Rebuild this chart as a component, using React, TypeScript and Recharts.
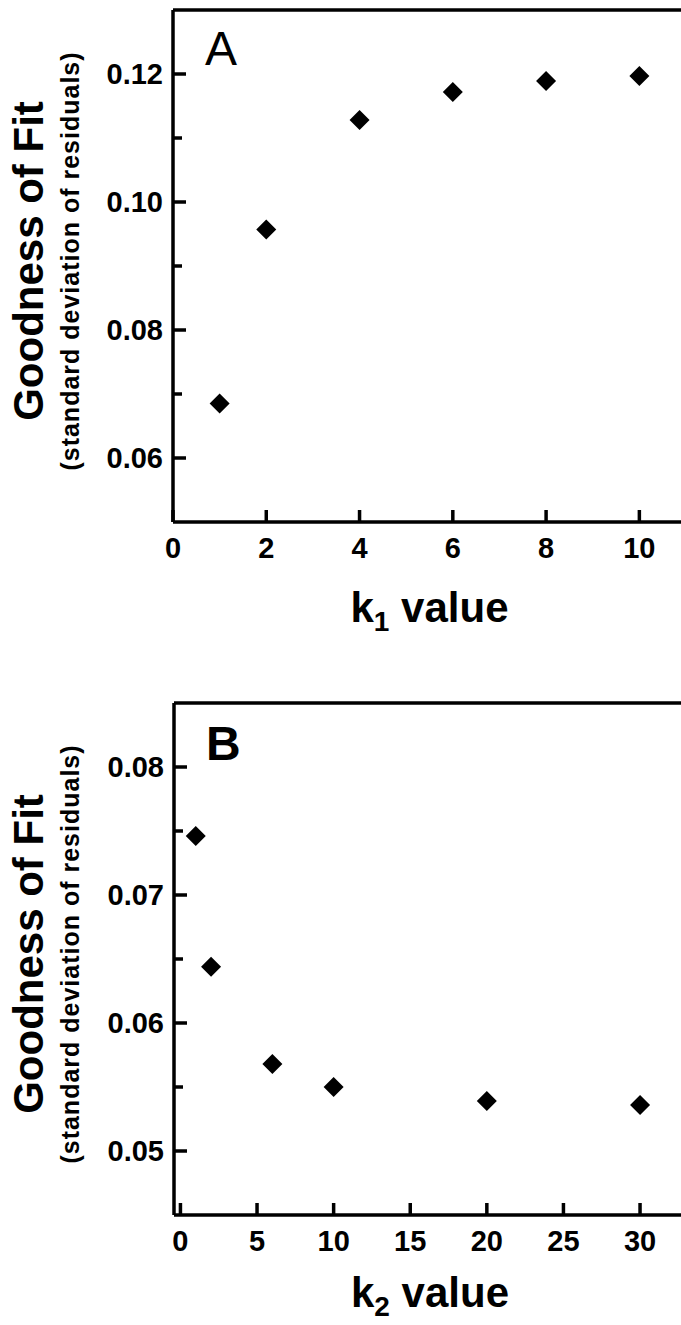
import { Label, ReferenceLine, Scatter, ScatterChart, XAxis, YAxis } from "recharts";

// panel A: k1 sweep
const k1Values = [1, 2, 4, 6, 8, 10];
const fitA = [0.0685, 0.0957, 0.1128, 0.1172, 0.1189, 0.1197];
const xTicksA = [0, 2, 4, 6, 8, 10];
const yTicksA = [0.06, 0.07, 0.08, 0.09, 0.1, 0.11, 0.12];

// panel B: k2 sweep
const k2Values = [1, 2, 6, 10, 20, 30];
const fitB = [0.0746, 0.0644, 0.0568, 0.055, 0.0539, 0.0536];
const xTicksB = [0, 5, 10, 15, 20, 25, 30];
const yTicksB = [0.05, 0.055, 0.06, 0.065, 0.07, 0.075, 0.08];

const dataA = k1Values.map((k, i) => ({ k, fit: fitA[i] }));
const dataB = k2Values.map((k, i) => ({ k, fit: fitB[i] }));

const FONT = '"Liberation Sans", Arial, Helvetica, sans-serif';
const LW = 3.5;
const AXIS = { stroke: "#000", strokeWidth: LW };

const Diamond = (props: any) => {
  const { cx, cy } = props;
  const r = 10;
  return (
    <polygon
      points={`${cx},${cy - r} ${cx + r},${cy} ${cx},${cy + r} ${cx - r},${cy}`}
      fill="#000"
    />
  );
};

const makeYTick = (isMajor: (v: number) => boolean) => (props: any) => {
  const { x, y, payload } = props;
  const axisX = x + 8;
  const major = isMajor(payload.value);
  return (
    <g>
      <line
        x1={axisX}
        x2={axisX + (major ? 13 : 9)}
        y1={y}
        y2={y}
        stroke="#000"
        strokeWidth={LW}
      />
      {major && (
        <text
          x={axisX - 10}
          y={y + 10}
          textAnchor="end"
          fontFamily={FONT}
          fontWeight="bold"
          fontSize={29}
          fill="#000"
        >
          {payload.value.toFixed(2)}
        </text>
      )}
    </g>
  );
};

const XTick = (props: any) => {
  const { x, y, payload } = props;
  return (
    <g>
      <line x1={x} x2={x} y1={y} y2={y - 12} stroke="#000" strokeWidth={LW} />
      <text
        x={x}
        y={y + 36}
        textAnchor="middle"
        fontFamily={FONT}
        fontWeight="bold"
        fontSize={29}
        fill="#000"
      >
        {payload.value}
      </text>
    </g>
  );
};

const YTitle = ({ viewBox }: any) => {
  const cy = viewBox.y + viewBox.height / 2 - 5;
  return (
    <g fontFamily={FONT} fontWeight="bold" fill="#000">
      <text
        x={43}
        y={cy}
        transform={`rotate(-90, 43, ${cy})`}
        textAnchor="middle"
        fontSize={42}
      >
        Goodness of Fit
      </text>
      <text
        x={79}
        y={cy}
        transform={`rotate(-90, 79, ${cy})`}
        textAnchor="middle"
        fontSize={25}
        letterSpacing={1}
      >
        (standard deviation of residuals)
      </text>
    </g>
  );
};

const makeXTitle = (sub: string, dy: number) => ({ viewBox }: any) => (
  <text
    x={viewBox.x + viewBox.width / 2}
    y={viewBox.y + dy}
    textAnchor="middle"
    fontFamily={FONT}
    fontWeight="bold"
    fontSize={42}
    fill="#000"
  >
    <tspan>k</tspan>
    <tspan dy={9} fontSize={28}>
      {sub}
    </tspan>
    <tspan dy={-9}> value</tspan>
  </text>
);

const makeLetter = (letter: string, dy: number, weight: string) =>
  ({ viewBox }: any) => (
    <text
      x={viewBox.x + 32}
      y={viewBox.y + dy}
      fontFamily={FONT}
      fontWeight={weight}
      fontSize={48}
      fill="#000"
    >
      {letter}
    </text>
  );

interface PanelProps {
  data: { k: number; fit: number }[];
  top: number;
  height: number;
  margin: { top: number; right: number; left: number; bottom: number };
  yAxisWidth: number;
  xDomain: [number, number];
  yDomain: [number, number];
  xTicks: number[];
  yTicks: number[];
  isMajor: (v: number) => boolean;
  letter: string;
  letterWeight: string;
  letterDy: number;
  sub: string;
  titleDy: number;
}

function Panel(p: PanelProps) {
  return (
    <div style={{ position: "absolute", left: 0, top: p.top }}>
      <ScatterChart width={700} height={p.height} margin={p.margin}>
        <XAxis
          dataKey="k"
          type="number"
          domain={p.xDomain}
          ticks={p.xTicks}
          interval={0}
          axisLine={AXIS}
          tickLine={false}
          tickSize={0}
          tickMargin={0}
          tick={XTick}
          height={110}
        >
          <Label content={makeXTitle(p.sub, p.titleDy)} />
        </XAxis>
        <YAxis
          dataKey="fit"
          type="number"
          domain={p.yDomain}
          ticks={p.yTicks}
          interval={0}
          axisLine={AXIS}
          tickLine={false}
          tickSize={0}
          tickMargin={8}
          tick={makeYTick(p.isMajor)}
          width={p.yAxisWidth}
        >
          <Label content={YTitle} />
        </YAxis>
        {/* top frame line, carries the panel letter */}
        <ReferenceLine y={p.yDomain[1]} stroke="#000" strokeWidth={LW}>
          <Label content={makeLetter(p.letter, p.letterDy, p.letterWeight)} />
        </ReferenceLine>
        <Scatter
          data={p.data}
          dataKey="fit"
          shape={Diamond}
          fill="#000"
          isAnimationActive={false}
        />
      </ScatterChart>
    </div>
  );
}

export default function App() {
  return (
    <div
      style={{
        position: "absolute",
        left: 0,
        top: 0,
        width: 681,
        height: 1325,
        overflow: "hidden",
        background: "#fff",
      }}
    >
      <Panel
        data={dataA}
        top={0}
        height={680}
        margin={{ top: 10, right: 14, left: 0, bottom: 48 }}
        yAxisWidth={173}
        xDomain={[0, 11]}
        yDomain={[0.05, 0.13]}
        xTicks={xTicksA}
        yTicks={yTicksA}
        isMajor={(v) => Math.round(v * 100) % 2 === 0}
        letter="A"
        letterWeight="normal"
        letterDy={55}
        sub="1"
        titleDy={100}
      />
      <Panel
        data={dataB}
        top={690}
        height={635}
        margin={{ top: 13, right: 14, left: 0, bottom: 0 }}
        yAxisWidth={174}
        xDomain={[-0.42, 33]}
        yDomain={[0.045, 0.085]}
        xTicks={xTicksB}
        yTicks={yTicksB}
        isMajor={(v) => Math.round(v * 1000) % 10 === 0}
        letter="B"
        letterWeight="bold"
        letterDy={57}
        sub="2"
        titleDy={92}
      />
    </div>
  );
}
